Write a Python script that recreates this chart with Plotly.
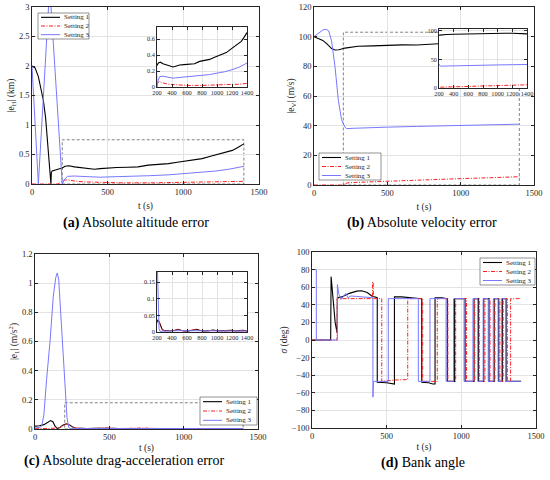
import plotly.graph_objects as go

# ---------------- data ----------------
# (a) absolute altitude error |e_H| (km)
a_t1 = [0, 20, 42, 60, 75, 90, 97, 110, 119, 125, 128, 134, 160, 200, 218, 244, 280, 324, 370, 413, 450, 502, 560, 636, 700, 769, 830, 902, 960, 1013, 1070, 1124, 1180, 1236, 1290, 1324, 1360, 1400]
a_v1 = [2.0, 1.97, 1.82, 1.62, 1.42, 1.12, 0.86, 0.5, 0.18, 0.0, 0.2, 0.22, 0.24, 0.27, 0.3, 0.31, 0.29, 0.275, 0.265, 0.25, 0.26, 0.275, 0.28, 0.285, 0.29, 0.32, 0.33, 0.345, 0.37, 0.39, 0.405, 0.43, 0.47, 0.51, 0.55, 0.57, 0.62, 0.68]
a_t2 = [0, 170, 190, 215, 230, 260, 300, 350, 413, 500, 600, 800, 1000, 1200, 1300, 1400]
a_v2 = [0, 0, 0.03, 0.065, 0.07, 0.055, 0.045, 0.035, 0.03, 0.025, 0.02, 0.02, 0.025, 0.03, 0.035, 0.045]
a_t3 = [0, 42, 117, 200, 215, 235, 280, 324, 413, 450, 502, 600, 700, 769, 900, 1036, 1100, 1213, 1300, 1400]
a_v3 = [2.0, 0.0, 3.35, 0.0, 0.08, 0.13, 0.135, 0.127, 0.11, 0.115, 0.12, 0.125, 0.13, 0.14, 0.155, 0.18, 0.19, 0.22, 0.25, 0.30]

# (b) absolute velocity error |e_V| (m/s)
b_t1 = [0, 30, 60, 90, 120, 143, 170, 211, 250, 300, 400, 507, 600, 700, 757, 850, 1000, 1100, 1200, 1300, 1400]
b_v1 = [100, 99, 97.5, 95, 92, 91, 91.2, 92.3, 93, 93.5, 93.8, 94.2, 94.5, 94.4, 94.8, 95.2, 95.5, 95.6, 95.5, 95.0, 94.5]
b_t2 = [0, 195, 215, 230, 300, 500, 700, 1000, 1200, 1400]
b_v2 = [0, 0, 1.0, 1.5, 1.8, 2.6, 3.2, 4.3, 4.9, 5.6]
b_t3 = [0, 30, 60, 80, 100, 120, 143, 166, 188, 211, 223, 260, 350, 500, 700, 900, 1000, 1200, 1400]
b_v3 = [100, 102, 104.5, 105, 104, 97, 80, 57, 44, 39, 38, 38.2, 38.6, 39, 39.5, 40, 40.3, 40.7, 41]

# (c) absolute drag-acceleration error (m/s^2)
c_t1 = [0, 30, 60, 85, 105, 120, 135, 150, 170, 190, 210, 230, 250, 270, 300, 350, 400, 440, 480, 520, 560, 620, 680, 724, 770, 830, 890, 947, 1000, 1060, 1120, 1191, 1250, 1300, 1350, 1400]
c_v1 = [0.02, 0.022, 0.03, 0.045, 0.058, 0.05, 0.02, 0.003, 0.012, 0.028, 0.036, 0.03, 0.015, 0.007, 0.004, 0.003, 0.004, 0.005, 0.008, 0.005, 0.003, 0.003, 0.005, 0.008, 0.005, 0.003, 0.004, 0.006, 0.004, 0.003, 0.004, 0.005, 0.003, 0.004, 0.005, 0.003]
c_t2 = [0, 140, 160, 180, 200, 212, 230, 250, 270, 300, 350, 400, 480, 560, 724, 830, 947, 1060, 1191, 1300, 1400]
c_v2 = [0.002, 0.002, 0.006, 0.018, 0.032, 0.035, 0.03, 0.015, 0.007, 0.004, 0.003, 0.004, 0.007, 0.003, 0.007, 0.003, 0.005, 0.003, 0.004, 0.004, 0.003]
c_t3 = [0, 30, 45, 60, 78, 101, 123, 140, 150, 160, 168, 180, 190, 205, 215, 227, 240, 300, 500, 800, 1100, 1400]
c_v3 = [0.008, 0.01, 0.02, 0.1, 0.34, 0.6, 0.91, 1.04, 1.07, 1.02, 0.88, 0.68, 0.5, 0.2, 0.08, 0.01, 0.002, 0.003, 0.004, 0.003, 0.003, 0.003]

# (d) bank angle sigma (deg)
d_t1 = [0, 125, 128, 140, 155, 168, 170, 200, 250, 300, 333, 370, 400, 437, 437, 500, 550, 552, 552, 600, 700, 735, 735, 780, 810, 824, 824, 870, 906, 906, 955, 955, 1025, 1025, 1085, 1085, 1115, 1115, 1150, 1150, 1185, 1185, 1220, 1220, 1250, 1250, 1275, 1275, 1300, 1300, 1400]
d_v1 = [0, 0, 72, 45, 20, 8, 48, 49, 53, 55.5, 56, 54, 50, 48, -48, -48.5, -50, -50, 49, 49, 47.5, 47, -48, -48.5, -50, -50, 48, 48, 47, -47, -47, 47, 47, -47, -47, 47, 47, -47, -47, 47, 47, -47, -47, 47, 47, -47, -47, 47, 47, -47, -47]
d_t2 = [0, 168, 168, 300, 405, 406, 410, 411, 467, 467, 550, 641, 641, 741, 741, 839, 839, 910, 910, 962, 962, 1035, 1035, 1090, 1090, 1120, 1120, 1158, 1158, 1192, 1192, 1225, 1225, 1258, 1258, 1280, 1280, 1308, 1308, 1330, 1330, 1395]
d_v2 = [0, 0, 47, 47, 47, 66, 66, 47, 47, -47, -45.5, -45, 47, 47, -47, -47, 47, 47, -47, -47, 47, 47, -47, -47, 47, 47, -47, -47, 47, 47, -47, -47, 47, 47, -47, -47, 47, 47, -47, -47, 47, 47]
d_t3 = [0, 29, 29, 170, 170, 180, 195, 210, 226, 240, 260, 300, 350, 395, 408, 408, 412, 511, 511, 712, 712, 790, 790, 898, 898, 948, 948, 1018, 1018, 1078, 1078, 1110, 1110, 1146, 1146, 1180, 1180, 1214, 1214, 1246, 1246, 1270, 1270, 1298, 1298, 1400]
d_v3 = [80, 80, 0, 0, 63, 52, 46, 50, 53, 48, 50, 49.5, 49, 48.5, 48, -65, -47, -47, 47, 47, -47, -47, 47, 47, -47, -47, 47, 47, -47, -47, 47, 47, -47, -47, 47, 47, -47, -47, 47, 47, -47, -47, 47, 47, -47, -47]

series_names = ["Setting 1", "Setting 2", "Setting 3"]
captions = ["<b>(a)</b> Absolute altitude error", "<b>(b)</b> Absolute velocity error",
            "<b>(c)</b> Absolute drag-acceleration error", "<b>(d)</b> Bank angle"]
# zoom windows [t0, t1, y0, y1]
zoom_a = [200, 1400, 0, 0.75]
zoom_b = [200, 1400, 0, 103]
zoom_c = [200, 1400, 0, 0.18]

# ---------------- style ----------------
FONT = "Liberation Serif"
AXC = "#262626"
GRID = "#e3e3e3"
styles = [dict(color="black", width=1.1),
          dict(color="#ff2020", width=1.0, dash="4px,1.5px,1px,1.5px"),
          dict(color="#7878ff", width=1.0)]

W, H = 550, 480
def fx(p):
    return p / W
def fy(p):
    return 1 - p / H
def px_x(a, b):
    return [fx(a), fx(b)]
def px_y(top, bottom):
    return [fy(bottom), fy(top)]

fig = go.Figure()

panels = [
    ("x", "y", [a_t1, a_t2, a_t3], [a_v1, a_v2, a_v3]),
    ("x2", "y2", [b_t1, b_t2, b_t3], [b_v1, b_v2, b_v3]),
    ("x3", "y3", [c_t1, c_t2, c_t3], [c_v1, c_v2, c_v3]),
    ("x4", "y4", [d_t1, d_t2, d_t3], [d_v1, d_v2, d_v3]),
    ("x5", "y5", [a_t1, a_t2, a_t3], [a_v1, a_v2, a_v3]),
    ("x6", "y6", [b_t1, b_t2, b_t3], [b_v1, b_v2, b_v3]),
    ("x7", "y7", [c_t1, c_t2, c_t3], [c_v1, c_v2, c_v3]),
]
for xa, ya, ts, vs in panels:
    for i in range(3):
        fig.add_trace(go.Scatter(x=ts[i], y=vs[i], mode="lines", line=styles[i],
                                 name=series_names[i], xaxis=xa, yaxis=ya,
                                 showlegend=False))

def axis(domain, rng, dtick, anchor, size=8.5, title=None, tick0=0, angle=None, standoff=6):
    d = dict(domain=domain, range=rng, dtick=dtick, tick0=tick0, anchor=anchor,
             automargin=False,
             showline=True, mirror="allticks", linecolor=AXC, linewidth=0.6,
             ticks="inside", ticklen=3, tickcolor=AXC, tickwidth=0.6,
             showgrid=True, gridcolor=GRID, gridwidth=0.6, zeroline=False,
             tickfont=dict(family=FONT, size=size, color=AXC))
    if angle is not None:
        d["tickangle"] = angle
    if title:
        d["title"] = dict(text=title, font=dict(family=FONT, size=9.5, color=AXC), standoff=standoff)
    return d

IS = 6.3
layout = dict(
    width=W, height=H, margin=dict(l=0, r=0, t=0, b=0, pad=0, autoexpand=False),
    paper_bgcolor="white", plot_bgcolor="white", showlegend=False,
    font=dict(family=FONT, color=AXC),
    xaxis=axis(px_x(32, 259), [0, 1500], 500, "y", title="t (s)"),
    yaxis=axis(px_y(7, 184), [0, 3], 0.5, "x", title="|e<sub>H</sub>| (km)", standoff=2),
    xaxis2=axis(px_x(314, 534), [0, 1500], 500, "y2", title="t (s)"),
    yaxis2=axis(px_y(7, 185), [0, 120], 20, "x2", title="|e<sub>V</sub>| (m/s)", standoff=2),
    xaxis3=axis(px_x(35, 258), [0, 1500], 500, "y3", title="t (s)", standoff=3),
    yaxis3=axis(px_y(254, 429), [0, 1.2], 0.2, "x3", title="|e<sub>1</sub>| (m/s<sup>2</sup>)", standoff=2),
    xaxis4=axis(px_x(312, 536), [0, 1500], 500, "y4", title="t (s)", standoff=3),
    yaxis4=axis(px_y(252, 428), [-100, 100], 20, "x4", title="<i>σ</i> (deg)", tick0=-100, standoff=2),
    xaxis5=axis(px_x(157, 247), zoom_a[:2], 200, "y5", size=IS, angle=0),
    yaxis5=axis(px_y(27, 87), zoom_a[2:], 0.2, "x5", size=IS),
    xaxis6=axis(px_x(439, 527), zoom_b[:2], 200, "y6", size=IS, angle=0),
    yaxis6=axis(px_y(29, 88), zoom_b[2:], 50, "x6", size=IS),
    xaxis7=axis(px_x(157, 247), zoom_c[:2], 200, "y7", size=IS, angle=0),
    yaxis7=axis(px_y(272, 332), zoom_c[2:], 0.05, "x7", size=IS),
)

shapes = []
annotations = []
for (xa, ya), z in zip([("x", "y"), ("x2", "y2"), ("x3", "y3")], [zoom_a, zoom_b, zoom_c]):
    shapes.append(dict(type="rect", xref=xa, yref=ya, x0=z[0], x1=z[1], y0=z[2], y1=z[3],
                       line=dict(color="#4d4d4d", width=0.7, dash="3px,2px"), layer="below"))

# compact MATLAB-style legends: boxes in window pixels (left, top, right, bottom)
legend_boxes = [(38, 13, 89, 39), (319, 153, 381, 180), (200, 397, 257, 425), (480, 258, 535, 285)]
for (l, t, r, b) in legend_boxes:
    shapes.append(dict(type="rect", xref="paper", yref="paper", x0=fx(l), x1=fx(r),
                       y0=fy(b), y1=fy(t), fillcolor="white",
                       line=dict(color=AXC, width=0.5), layer="above"))
    h = b - t
    for i in range(3):
        yc = t + h * (2 * i + 1) / 6
        shapes.append(dict(type="line", xref="paper", yref="paper", x0=fx(l + 3), x1=fx(l + 22),
                           y0=fy(yc), y1=fy(yc), line=styles[i], layer="above"))
        annotations.append(dict(text=series_names[i], x=fx(l + 24), y=fy(yc),
                                xref="paper", yref="paper", showarrow=False,
                                xanchor="left", yanchor="middle",
                                font=dict(family=FONT, size=7, color=AXC)))
layout["shapes"] = shapes

cap_pos = [(136, 223), (422, 223), (124, 461), (423, 463)]
annotations += [
    dict(text=c, x=fx(px), y=fy(py), xref="paper", yref="paper", showarrow=False,
         xanchor="center", yanchor="middle", font=dict(family=FONT, size=14, color="black"))
    for c, (px, py) in zip(captions, cap_pos)
]
layout["annotations"] = annotations

fig.update_layout(**layout)
# remove the browser's default 8px body margin so the 550x480 figure fills the window
fig.write_html("out.html", config={"displayModeBar": False},
               post_script="document.body.style.margin='0';")
